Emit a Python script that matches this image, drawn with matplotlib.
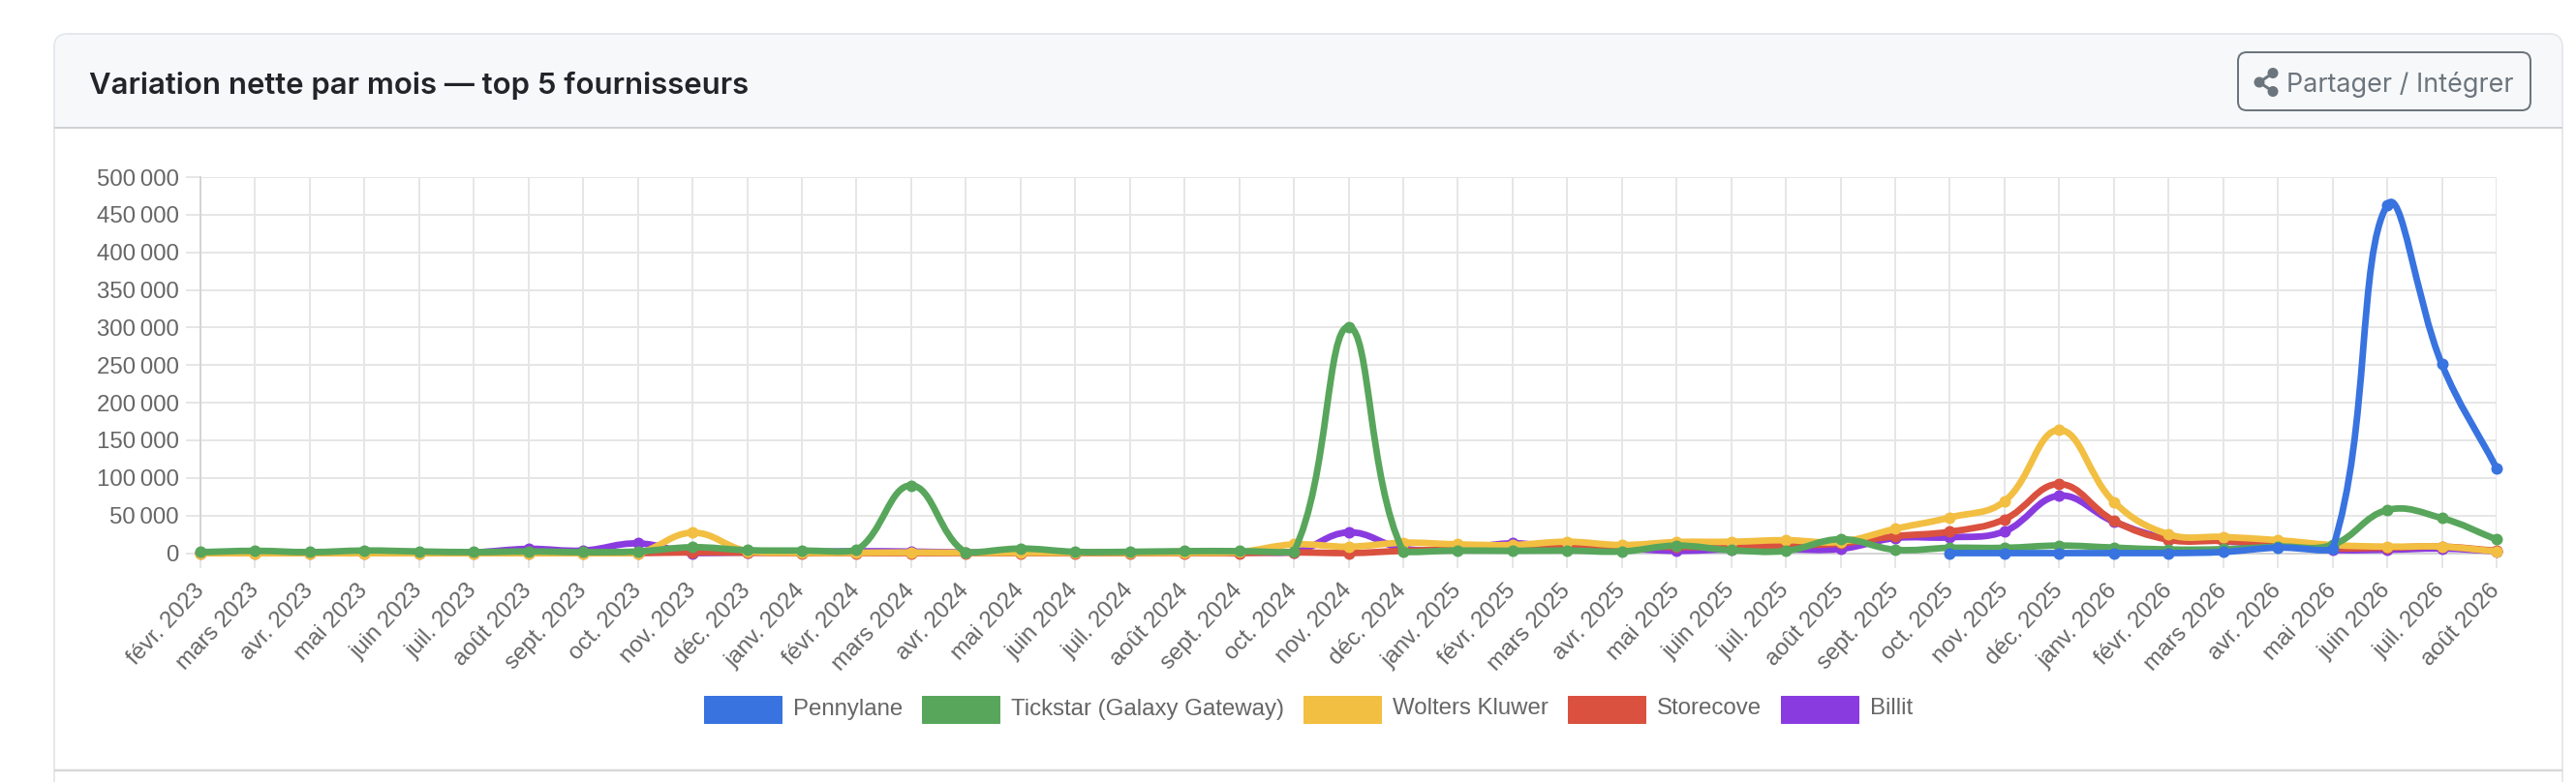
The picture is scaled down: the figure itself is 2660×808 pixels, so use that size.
import math
import matplotlib
matplotlib.use("Agg")
import matplotlib.pyplot as plt
from matplotlib.path import Path
from matplotlib.patches import PathPatch, FancyBboxPatch, Rectangle, Circle

# ---------------- data ----------------
months = [
    "févr. 2023", "mars 2023", "avr. 2023", "mai 2023", "juin 2023", "juil. 2023",
    "août 2023", "sept. 2023", "oct. 2023", "nov. 2023", "déc. 2023",
    "janv. 2024", "févr. 2024", "mars 2024", "avr. 2024", "mai 2024", "juin 2024",
    "juil. 2024", "août 2024", "sept. 2024", "oct. 2024", "nov. 2024", "déc. 2024",
    "janv. 2025", "févr. 2025", "mars 2025", "avr. 2025", "mai 2025", "juin 2025",
    "juil. 2025", "août 2025", "sept. 2025", "oct. 2025", "nov. 2025", "déc. 2025",
    "janv. 2026", "févr. 2026", "mars 2026", "avr. 2026", "mai 2026", "juin 2026",
    "juil. 2026", "août 2026",
]

pennylane = [None] * 32 + [0, 0, 0, 0, 0, 1500, 7300, 5800, 463000, 251000, 113000]

tickstar = [1300, 3000, 1300, 3400, 2200, 1300, 2200, 1300, 2200, 7800, 3900,
            3400, 3900, 90000, 900, 6000, 1700, 1700, 2600, 2600, 1700, 301000, 2200,
            3400, 3000, 3400, 2200, 9900, 3900, 3000, 18500, 4500, 7000, 7000, 10000,
            7300, 4800, 5200, 8600, 11000, 57300, 46500, 18100]

wolters = [0, 0, 0, 0, 0, 0, 0, 0, 0, 27200, 2500,
           500, 500, 900, 500, 500, 500, 500, 500, 1500, 11600, 8500, 13800,
           11600, 10800, 15100, 10800, 14700, 15100, 17200, 15100, 32300, 47400, 69000, 163800,
           68100, 25000, 21500, 17200, 10800, 8600, 8600, 2200]

storecove = [0, 0, 0, 0, 0, 0, 0, 0, 0, 1000, 500,
             0, 0, 0, 0, 0, 0, 0, 0, 0, 900, 0, 3000,
             5000, 6000, 8000, 10000, 8000, 9000, 10000, 13000, 22500, 28500, 45000, 91800,
             43100, 17800, 16200, 11800, 6500, 7300, 8600, 3000]

billit = [500, 1000, 500, 1000, 1000, 1000, 5600, 3400, 12900, 0, 1000,
          1500, 2500, 2000, 1000, 1000, 1000, 1000, 1000, 1000, 900, 27600, 6000,
          5000, 13000, 6000, 6000, 3000, 5000, 5000, 5600, 20000, 21000, 29000, 76300,
          41800, 19400, 16000, 10000, 4300, 4500, 6000, 2500]

series_names = ["Pennylane", "Tickstar (Galaxy Gateway)", "Wolters Kluwer", "Storecove", "Billit"]
series_values = [pennylane, tickstar, wolters, storecove, billit]
series_colors = ["#3873e0", "#58a65c", "#f2bf42", "#da513f", "#8a3be0"]

y_ticks = list(range(0, 500001, 50000))

# ---------------- layout (pixels) ----------------
W, H = 2660, 808
PX = 0.72  # points per pixel at dpi 100
AX_L, AX_R, AX_T, AX_B = 207, 2578, 183, 571.5
YMAX = 500000

fig = plt.figure(figsize=(W / 100, H / 100), dpi=100)
fig.patch.set_facecolor("white")
renderer = fig.canvas.get_renderer()

bg = fig.add_axes([0, 0, 1, 1], zorder=0)
bg.set_xlim(0, W)
bg.set_ylim(H, 0)
bg.axis("off")

# card
bg.add_patch(FancyBboxPatch((56, 35), 2590, 900, boxstyle="round,pad=0,rounding_size=14",
                            fc="white", ec="#e5e8eb", lw=2 * PX))
bg.add_patch(FancyBboxPatch((57, 36), 2588, 94, boxstyle="round,pad=0,rounding_size=13",
                            fc="#f7f8fa", ec="none"))
bg.add_patch(Rectangle((57, 100), 2588, 31, fc="#f7f8fa", ec="none"))
bg.plot([56, 2646], [131.5, 131.5], color="#cfd2d5", lw=2 * PX, solid_capstyle="butt")
bg.plot([56, 2646], [796, 796], color="#d8d8d8", lw=2.5 * PX, solid_capstyle="butt")

TEXT_FONT = ["Liberation Sans", "DejaVu Sans"]
UI_FONT = ["Inter", "DejaVu Sans"]


def fit_text(ax, x, y, s, target_w, fs0=20, **kw):
    t = ax.text(x, y, s, fontsize=fs0, **kw)
    bb = t.get_window_extent(renderer)
    t.set_fontsize(fs0 * target_w / bb.width)
    return t


# title
fit_text(bg, 92, 97, "Variation nette par mois — top 5 fournisseurs", 681,
         family=UI_FONT, weight="semibold", color="#212529", ha="left", va="baseline")

# share button
bg.add_patch(FancyBboxPatch((2311, 54), 302, 60, boxstyle="round,pad=0,rounding_size=9",
                            fc="none", ec="#6c757d", lw=2 * PX))
fit_text(bg, 2361, 95, "Partager / Intégrer", 234, family=UI_FONT, color="#6c757d",
         ha="left", va="baseline")
icon_pts = [(2347, 75.5), (2333, 85), (2347, 94.5)]
bg.plot([icon_pts[0][0], icon_pts[1][0], icon_pts[2][0]],
        [icon_pts[0][1], icon_pts[1][1], icon_pts[2][1]], color="#6c757d", lw=3 * PX)
for cx, cy in icon_pts:
    bg.add_patch(Circle((cx, cy), 5.5, fc="#6c757d", ec="none"))

# ---------------- chart ----------------
ax = fig.add_axes([AX_L / W, (H - AX_B) / H, (AX_R - AX_L) / W, (AX_B - AX_T) / H], zorder=2)
ax.set_facecolor("none")
n = len(months)
ax.set_xlim(0, n - 1)
ax.set_ylim(0, YMAX)

sx = (AX_R - AX_L) / (n - 1)
sy = (AX_B - AX_T) / YMAX


def spline_path(xs, ys, tension=0.4):
    px = [x * sx for x in xs]
    py = [y * sy for y in ys]
    m = len(px)
    prev_cp, next_cp = [], []
    xmin, xmax = 0, (n - 1) * sx
    ymin, ymax = 0, YMAX * sy

    def clamp(v, lo, hi):
        return min(max(v, lo), hi)

    for i in range(m):
        f = i - 1 if i > 0 else i
        a = i + 1 if i < m - 1 else i
        d01 = math.hypot(px[i] - px[f], py[i] - py[f])
        d12 = math.hypot(px[a] - px[i], py[a] - py[i])
        tot = d01 + d12
        s01 = d01 / tot if tot else 0
        s12 = d12 / tot if tot else 0
        fa, fb = tension * s01, tension * s12
        pcx = px[i] - fa * (px[a] - px[f])
        pcy = py[i] - fa * (py[a] - py[f])
        ncx = px[i] + fb * (px[a] - px[f])
        ncy = py[i] + fb * (py[a] - py[f])
        prev_cp.append((clamp(pcx, xmin, xmax) / sx, clamp(pcy, ymin, ymax) / sy))
        next_cp.append((clamp(ncx, xmin, xmax) / sx, clamp(ncy, ymin, ymax) / sy))
    verts = [(xs[0], ys[0])]
    codes = [Path.MOVETO]
    for i in range(m - 1):
        verts += [next_cp[i], prev_cp[i + 1], (xs[i + 1], ys[i + 1])]
        codes += [Path.CURVE4] * 3
    return Path(verts, codes)


nser = len(series_names)
for k, (name, vals, col) in enumerate(zip(series_names, series_values, series_colors)):
    xs = [i for i, v in enumerate(vals) if v is not None]
    ys = [v for v in vals if v is not None]
    z = 10 + (nser - k) * 2
    ax.add_patch(PathPatch(spline_path(xs, ys), fc="none", ec=col, lw=6.8 * PX,
                           capstyle="round", joinstyle="round", clip_on=False, zorder=z))
    ax.plot(xs, ys, ls="none", marker="o", ms=12 * PX, mfc=col, mec=col, mew=0,
            clip_on=False, zorder=z + 1)

# grid and ticks
ax.set_xticks(range(n))
ax.set_xticklabels(months, rotation=47, ha="right", va="center", rotation_mode="anchor",
                   family=TEXT_FONT, fontsize=24 * PX, color="#666666")
ax.set_yticks(y_ticks)
ax.set_yticklabels([f"{v:,}".replace(",", "\u202f") for v in y_ticks],
                   family=TEXT_FONT, fontsize=24 * PX, color="#666666")
ax.grid(True, color="#e6e6e6", lw=2 * PX, zorder=1)
ax.set_axisbelow(True)
ax.tick_params(axis="both", length=15 * PX, width=2 * PX, color="#e6e6e6")
ax.tick_params(axis="y", pad=7 * PX)
ax.tick_params(axis="x", pad=20 * PX)
for s in ["top", "right"]:
    ax.spines[s].set_visible(False)
for s in ["left", "bottom"]:
    ax.spines[s].set_color("#d4d4d4")
    ax.spines[s].set_linewidth(2 * PX)
    ax.spines[s].set_zorder(1.5)

# ---------------- legend ----------------
LEG_Y = 732.5
BOX_W, BOX_H, GAP, ITEM_GAP = 80, 28, 12, 20
LEG_FS = 24 * PX
widths = []
for name in series_names:
    t = bg.text(0, 0, name, fontsize=LEG_FS, family=TEXT_FONT)
    widths.append(t.get_window_extent(renderer).width)
    t.remove()
total = sum(BOX_W + GAP + w for w in widths) + ITEM_GAP * (len(widths) - 1)
x = 1351 - total / 2
for name, col, w in zip(series_names, series_colors, widths):
    bg.add_patch(Rectangle((x, LEG_Y - BOX_H / 2), BOX_W, BOX_H, fc=col, ec=col, lw=PX))
    bg.text(x + BOX_W + GAP, LEG_Y, name, fontsize=LEG_FS, family=TEXT_FONT,
            color="#666666", ha="left", va="center")
    x += BOX_W + GAP + w + ITEM_GAP

fig.savefig("out.png", dpi=100, facecolor="white")
